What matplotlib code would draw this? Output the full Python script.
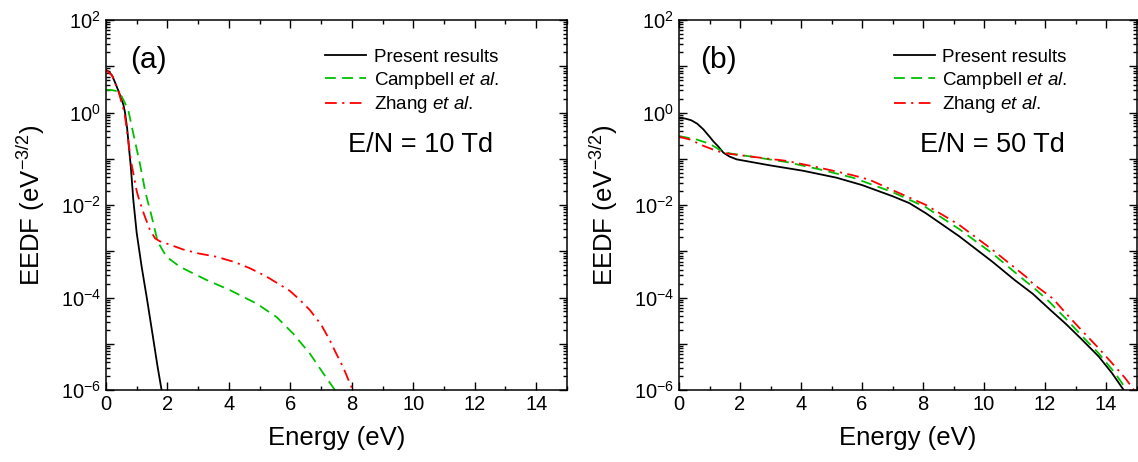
import math
import matplotlib
matplotlib.use("Agg")
import matplotlib.pyplot as plt
from matplotlib.ticker import LogLocator, FixedLocator, FuncFormatter, MultipleLocator, NullFormatter

plt.rcParams['font.family'] = ['Liberation Sans', 'DejaVu Sans']
plt.rcParams['mathtext.fontset'] = 'custom'
plt.rcParams['mathtext.rm'] = 'Liberation Sans'
plt.rcParams['mathtext.it'] = 'Liberation Sans:italic'

# ---- panel (a): E/N = 10 Td ----
a_present_E = [0, 0.1, 0.2, 0.3, 0.4, 0.5, 0.57, 0.62, 0.69, 0.75, 0.81, 0.89, 1.0, 1.16, 1.34, 1.51, 1.68, 1.81, 1.86]
a_present_f = [8.3, 7.6, 6.3, 4.4, 3.0, 2.0, 1.45, 1.0, 0.45, 0.17, 0.066, 0.013, 2.5e-3, 4.7e-4, 8.9e-5, 1.7e-5, 3.2e-6, 1e-6, 6e-7]

a_campbell_E = [0, 0.2, 0.35, 0.5, 0.6, 0.73, 0.89, 1.1, 1.29, 1.49, 1.65, 1.75, 1.97, 2.41, 3.27, 4.03, 4.9, 5.55, 6.09, 6.63, 7.07, 7.45]
a_campbell_f = [3.1, 3.05, 2.9, 2.3, 1.7, 1.1, 0.35, 0.081, 0.018, 5.6e-3, 2e-3, 1.35e-3, 7.6e-4, 4.6e-4, 2.4e-4, 1.45e-4, 7.4e-5, 3.8e-5, 1.66e-5, 6.2e-6, 2.3e-6, 1e-6]

a_zhang_E = [0, 0.2, 0.4, 0.6, 0.7, 0.8, 0.9, 1.0, 1.08, 1.25, 1.43, 1.6, 1.75, 2.0, 2.5, 3.0, 3.6, 4.2, 4.68, 5.2, 5.6, 5.98, 6.3, 6.63, 7.0, 7.28, 7.5, 7.71, 7.9, 8.03]
a_zhang_f = [8.3, 6.3, 3.0, 1.0, 0.35, 0.1, 0.045, 0.02, 0.013, 6e-3, 2.9e-3, 1.9e-3, 1.65e-3, 1.45e-3, 1.1e-3, 9e-4, 7.6e-4, 5.8e-4, 4.3e-4, 2.9e-4, 2e-4, 1.4e-4, 9e-5, 5.4e-5, 2.6e-5, 1.2e-5, 6e-6, 3.2e-6, 1.6e-6, 1e-6]

# ---- panel (b): E/N = 50 Td ----
b_present_E = [0, 0.2, 0.4, 0.6, 0.8, 1.0, 1.12, 1.3, 1.45, 1.65, 1.89, 2.98, 4.07, 5.16, 6.0, 7.0, 7.55, 8.1, 9.19, 10.28, 11.0, 11.6, 12.2, 12.68, 13.2, 13.76, 14.2, 14.58]
b_present_f = [0.75, 0.74, 0.68, 0.57, 0.43, 0.3, 0.24, 0.18, 0.136, 0.112, 0.097, 0.072, 0.055, 0.039, 0.027, 0.0155, 0.011, 6.6e-3, 2.1e-3, 5.9e-4, 2.4e-4, 1.2e-4, 5.2e-5, 2.7e-5, 1.25e-5, 5.3e-6, 2.3e-6, 1e-6]

b_campbell_E = [0, 0.58, 1.01, 1.34, 1.67, 2.43, 3.52, 4.61, 5.70, 6.24, 7.0, 8.1, 9.19, 10.28, 11.38, 11.6, 12.14, 12.68, 13.2, 13.76, 14.3, 14.68]
b_campbell_f = [0.31, 0.26, 0.21, 0.155, 0.13, 0.11, 0.085, 0.059, 0.039, 0.029, 0.019, 8.9e-3, 3e-3, 8.9e-4, 2.2e-4, 1.7e-4, 8.1e-5, 3.5e-5, 1.5e-5, 6.2e-6, 2.3e-6, 1e-6]

b_zhang_E = [0, 0.36, 0.8, 1.23, 1.56, 2.43, 3.52, 4.61, 5.70, 6.25, 7.0, 8.1, 9.19, 10.28, 11.38, 11.6, 12.25, 12.68, 13.2, 13.76, 14.3, 14.63, 14.92]
b_zhang_f = [0.30, 0.26, 0.19, 0.148, 0.13, 0.11, 0.090, 0.064, 0.044, 0.035, 0.021, 0.01, 3.7e-3, 1.07e-3, 2.8e-4, 2e-4, 9.6e-5, 4.6e-5, 1.95e-5, 8e-6, 3.2e-6, 1.8e-6, 1e-6]

series_labels = ["Present results", r"Campbell $\it{et\ al.}$", r"Zhang $\it{et\ al.}$"]
panel_tags = ["(a)", "(b)"]
field_labels = ["E/N = 10 Td", "E/N = 50 Td"]
x_ticks = [0, 2, 4, 6, 8, 10, 12, 14]

fig = plt.figure(figsize=(11.38, 4.62), dpi=100)
ax_a = fig.add_axes([0.0931, 0.1558, 0.4051, 0.8009])
ax_b = fig.add_axes([0.5967, 0.1558, 0.4020, 0.8009])


def exp_label(v, pos):
    e = int(round(math.log10(v)))
    if e % 2:
        return ""
    return r"$10^{%d}$" % e


def draw_panel(ax, data, tag, field, tag_x, leg_x):
    (pE, pf), (cE, cf), (zE, zf) = data
    ax.plot(pE, pf, color="black", lw=1.3, label=series_labels[0])
    ax.plot(cE, cf, color="#00c000", lw=1.3, ls=(0, (6, 3.5)), label=series_labels[1])
    ax.plot(zE, zf, color="#ff0000", lw=1.3, ls=(0, (6.5, 3, 1.2, 3)), label=series_labels[2])
    ax.set_yscale("log")
    ax.set_xlim(0, 15)
    ax.set_ylim(1e-6, 1e2)
    ax.xaxis.set_major_locator(FixedLocator(x_ticks))
    ax.xaxis.set_minor_locator(MultipleLocator(1))
    ax.yaxis.set_major_locator(LogLocator(base=10, numticks=20))
    ax.yaxis.set_major_formatter(FuncFormatter(exp_label))
    ax.yaxis.set_minor_locator(LogLocator(base=10, subs=range(2, 10), numticks=20))
    ax.yaxis.set_minor_formatter(NullFormatter())
    ax.tick_params(which="both", direction="in", top=True, right=True, labelsize=14.5, width=1.0)
    ax.tick_params(which="major", length=6)
    ax.tick_params(which="minor", length=3)
    for s in ax.spines.values():
        s.set_linewidth(1.1)
    ax.set_xlabel("Energy (eV)", fontsize=18.5, labelpad=9)
    ax.set_ylabel(r"EEDF (eV$^{-3/2}$)", fontsize=18.5, labelpad=10)
    ax.text(tag_x, 0.870, tag, transform=ax.transAxes, fontsize=21.5, va="baseline", ha="left")
    ax.text(0.526, 0.644, field, transform=ax.transAxes, fontsize=19.5, va="baseline", ha="left")
    ax.legend(loc="upper left", bbox_to_anchor=(leg_x, 0.922), frameon=False, fontsize=13.5,
              handlelength=2.2, handletextpad=0.4, labelspacing=0.2, borderaxespad=0, borderpad=0)


draw_panel(ax_a, [(a_present_E, a_present_f), (a_campbell_E, a_campbell_f), (a_zhang_E, a_zhang_f)],
           panel_tags[0], field_labels[0], 0.052, 0.475)
draw_panel(ax_b, [(b_present_E, b_present_f), (b_campbell_E, b_campbell_f), (b_zhang_E, b_zhang_f)],
           panel_tags[1], field_labels[1], 0.045, 0.469)

fig.savefig("out.png", dpi=100)
